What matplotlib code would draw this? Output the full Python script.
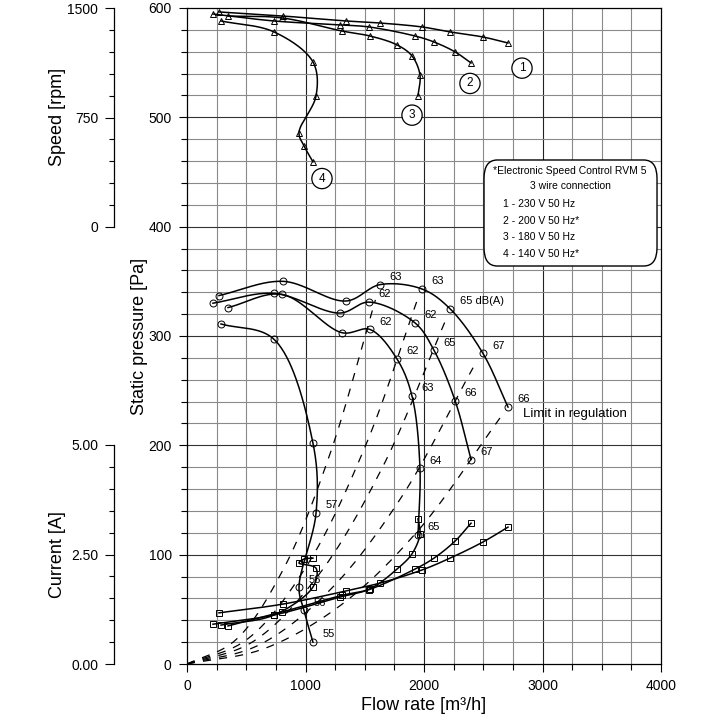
import numpy as np
import matplotlib
matplotlib.use('Agg')
import matplotlib.pyplot as plt
from matplotlib.ticker import MultipleLocator, FormatStrFormatter
from matplotlib.patches import FancyBboxPatch

plt.rcParams['font.family'] = ['Liberation Sans', 'DejaVu Sans']

# operating points per speed setting (flow in m3/h)
flow_1 = [270, 810, 1342, 1629, 1983, 2219, 2498, 2709]
flow_2 = [219, 734, 1291, 1536, 1924, 2084, 2262, 2397]
flow_3 = [346, 802, 1308, 1544, 1772, 1899, 1966, 1949]
flow_4 = [287, 734, 1063, 1089, 945, 987, 1063]

# static pressure [Pa]
press_1 = [337, 350, 332, 347, 343, 325, 284, 235]
press_2 = [330, 339, 321, 331, 312, 287, 241, 187]
press_3 = [326, 338, 303, 306, 279, 245, 179, 118]
press_4 = [311, 297, 202, 138, 70, 49, 20]

# speed [rpm]
speed_1 = [1473, 1445, 1411, 1397, 1370, 1336, 1301, 1260]
speed_2 = [1459, 1411, 1384, 1370, 1308, 1267, 1199, 1123]
speed_3 = [1445, 1432, 1342, 1308, 1247, 1171, 1041, 897]
speed_4 = [1411, 1336, 1130, 897, 644, 555, 445]

# current [A]
current_1 = [1.17, 1.37, 1.67, 1.85, 2.15, 2.42, 2.79, 3.13]
current_2 = [0.91, 1.12, 1.53, 1.70, 2.17, 2.42, 2.81, 3.22]
current_3 = [0.87, 1.19, 1.57, 1.72, 2.17, 2.52, 2.97, 3.32]
current_4 = [0.89, 1.12, 1.76, 2.19, 2.31, 2.40, 2.42]

# sound level labels at the operating points
db_1 = ['', '', '', '63', '63', '65 dB(A)', '67', '66']
db_2 = ['', '', '', '62', '62', '65', '66', '67']
db_3 = ['', '', '', '62', '62', '63', '64', '65']
db_4 = ['', '', '', '57', '56', '56', '55']

# system curves (dashed)
sys_flow = [[0, 400, 800, 1200, 1590],
            [0, 500, 1000, 1500, 1950],
            [0, 550, 1100, 1650, 2177],
            [0, 600, 1200, 1800, 2414],
            [0, 650, 1300, 1950, 2641]]
sys_press = [[0, 21, 84, 190, 333],
             [0, 22, 88, 198, 335],
             [0, 20, 80, 180, 313],
             [0, 17, 67, 151, 271],
             [0, 14, 54, 122, 225]]

curve_names = ['1', '2', '3', '4']
legend_lines = ['1 - 230 V 50 Hz', '2 - 200 V 50 Hz*', '3 - 180 V 50 Hz', '4 - 140 V 50 Hz*']


def smooth(x, y, n=40):
    # centripetal Catmull-Rom through the points, done in pixel-like units
    sx, sy = 474 / 4000, 656 / 600
    P = np.column_stack([np.asarray(x, float) * sx, np.asarray(y, float) * sy])
    P = np.vstack([2 * P[0] - P[1], P, 2 * P[-1] - P[-2]])
    segs = []
    for i in range(len(P) - 3):
        p0, p1, p2, p3 = P[i:i + 4]
        t0 = 0.0
        t1 = t0 + max(np.hypot(*(p1 - p0)), 1e-6) ** 0.5
        t2 = t1 + max(np.hypot(*(p2 - p1)), 1e-6) ** 0.5
        t3 = t2 + max(np.hypot(*(p3 - p2)), 1e-6) ** 0.5
        t = np.linspace(t1, t2, n)[:, None]
        a1 = (t1 - t) / (t1 - t0) * p0 + (t - t0) / (t1 - t0) * p1
        a2 = (t2 - t) / (t2 - t1) * p1 + (t - t1) / (t2 - t1) * p2
        a3 = (t3 - t) / (t3 - t2) * p2 + (t - t2) / (t3 - t2) * p3
        b1 = (t2 - t) / (t2 - t0) * a1 + (t - t0) / (t2 - t0) * a2
        b2 = (t3 - t) / (t3 - t1) * a2 + (t - t1) / (t3 - t1) * a3
        segs.append((t2 - t) / (t2 - t1) * b1 + (t - t1) / (t2 - t1) * b2)
    c = np.vstack(segs)
    return c[:, 0] / sx, c[:, 1] / sy


def rpm_to_pa(v):
    return 400 + np.asarray(v, float) * 200 / 1500


def amp_to_pa(v):
    return np.asarray(v, float) * 40


fig = plt.figure(figsize=(7.2, 7.2), dpi=100)
ax = fig.add_axes([187 / 720, 56 / 720, 474 / 720, 656 / 720])
ax.set_xlim(0, 4000)
ax.set_ylim(0, 600)

# grid
for q in np.arange(250, 4000, 250):
    major = q % 1000 == 0
    ax.axvline(q, color='#222222' if major else '#8a8a8a', lw=0.8, zorder=0)
for p in np.arange(20, 600, 20):
    major = p % 100 == 0
    ax.axhline(p, color='#333333' if major else '#8a8a8a', lw=0.8, zorder=0)

ax.xaxis.set_major_locator(MultipleLocator(1000))
ax.xaxis.set_minor_locator(MultipleLocator(250))
ax.yaxis.set_major_locator(MultipleLocator(100))
ax.yaxis.set_minor_locator(MultipleLocator(20))
ax.tick_params(which='major', direction='out', length=6, width=0.8, labelsize=10, pad=5)
ax.tick_params(which='minor', direction='out', length=4, width=0.8)
for s in ax.spines.values():
    s.set_linewidth(0.9)

# system curves
for fq, fp in zip(sys_flow, sys_press):
    xs, ys = smooth(fq, fp)
    ax.plot(xs, ys, color='black', lw=0.9, ls=(0, (6.5, 6.5)), zorder=2)

flows = [flow_1, flow_2, flow_3, flow_4]
presses = [press_1, press_2, press_3, press_4]
speeds = [speed_1, speed_2, speed_3, speed_4]
currents = [current_1, current_2, current_3, current_4]
dbs = [db_1, db_2, db_3, db_4]

mk = dict(mfc='none', mec='black', mew=0.7, ms=5, ls='none', zorder=4)
for fq, pr, sp, cu, db in zip(flows, presses, speeds, currents, dbs):
    xs, ys = smooth(fq, pr)
    ax.plot(xs, ys, color='black', lw=1.1, zorder=3)
    ax.plot(fq, pr, marker='o', **mk)

    xs, ys = smooth(fq, rpm_to_pa(sp))
    ax.plot(xs, ys, color='black', lw=1.1, zorder=3)
    ax.plot(fq, rpm_to_pa(sp), marker='^', **mk)

    xs, ys = smooth(fq, amp_to_pa(cu))
    ax.plot(xs, ys, color='black', lw=1.1, zorder=3)
    ax.plot(fq, amp_to_pa(cu), marker='s', **mk)

    for q, p, lab in zip(fq, pr, db):
        if lab:
            ax.annotate(lab, (q, p), xytext=(7, 5.5), textcoords='offset points',
                        ha='left', va='center', fontsize=8, zorder=5)

# circled curve numbers
num_pos = [(2827, 545), (2388, 531), (1899, 502), (1139, 444)]
for name, (q, p) in zip(curve_names, num_pos):
    ax.text(q, p, name, ha='center', va='center', fontsize=8.5, zorder=6,
            bbox=dict(boxstyle='circle,pad=0.35', fc='white', ec='black', lw=0.9))

ax.text(2835, 229, 'Limit in regulation', ha='left', va='center', fontsize=9.5, zorder=5)

# legend box
box = FancyBboxPatch((0.6266, 0.6067), 0.365, 0.1616, transform=ax.transAxes,
                     boxstyle='round,pad=0,rounding_size=0.028', fc='white', ec='black',
                     lw=1.0, zorder=6)
ax.add_patch(box)
ax.text(0.808, 0.7515, '*Electronic Speed Control RVM 5', transform=ax.transAxes,
        ha='center', va='center', fontsize=7.5, zorder=7)
ax.text(0.808, 0.7287, '3 wire connection', transform=ax.transAxes,
        ha='center', va='center', fontsize=7.5, zorder=7)
for i, line in enumerate(legend_lines):
    ax.text(0.6667, 0.7012 - i * 0.0254, line, transform=ax.transAxes,
            ha='left', va='center', fontsize=7.5, zorder=7)

# speed and current scales on the left
def side_axis(bottom, top, ticks, minor, fmt):
    a = fig.add_axes([114 / 720, bottom / 720, 0.0001, 219 / 720])
    a.patch.set_visible(False)
    for k in ['right', 'top', 'bottom']:
        a.spines[k].set_visible(False)
    a.spines['left'].set_linewidth(0.9)
    a.set_xticks([])
    a.set_ylim(0, top)
    a.set_yticks(ticks)
    a.yaxis.set_minor_locator(MultipleLocator(minor))
    a.yaxis.set_major_formatter(FormatStrFormatter(fmt))
    a.tick_params(which='major', length=6.5, width=0.8, labelsize=10, pad=5)
    a.tick_params(which='minor', length=3.8, width=0.8)
    return a

side_axis(720 - 227, 1500, [0, 750, 1500], 150, '%d')
side_axis(56, 5, [0, 2.5, 5], 0.5, '%.2f')

fig.text(58 / 720, 1 - 117 / 720, 'Speed [rpm]', rotation=90, ha='center', va='center', fontsize=13)
fig.text(58 / 720, 1 - 555 / 720, 'Current [A]', rotation=90, ha='center', va='center', fontsize=13)
fig.text(140 / 720, 1 - 336 / 720, 'Static pressure [Pa]', rotation=90, ha='center', va='center', fontsize=13)
fig.text(424 / 720, 1 - 705 / 720, 'Flow rate [m³/h]', ha='center', va='center', fontsize=13)

fig.savefig('out.png', dpi=100)
